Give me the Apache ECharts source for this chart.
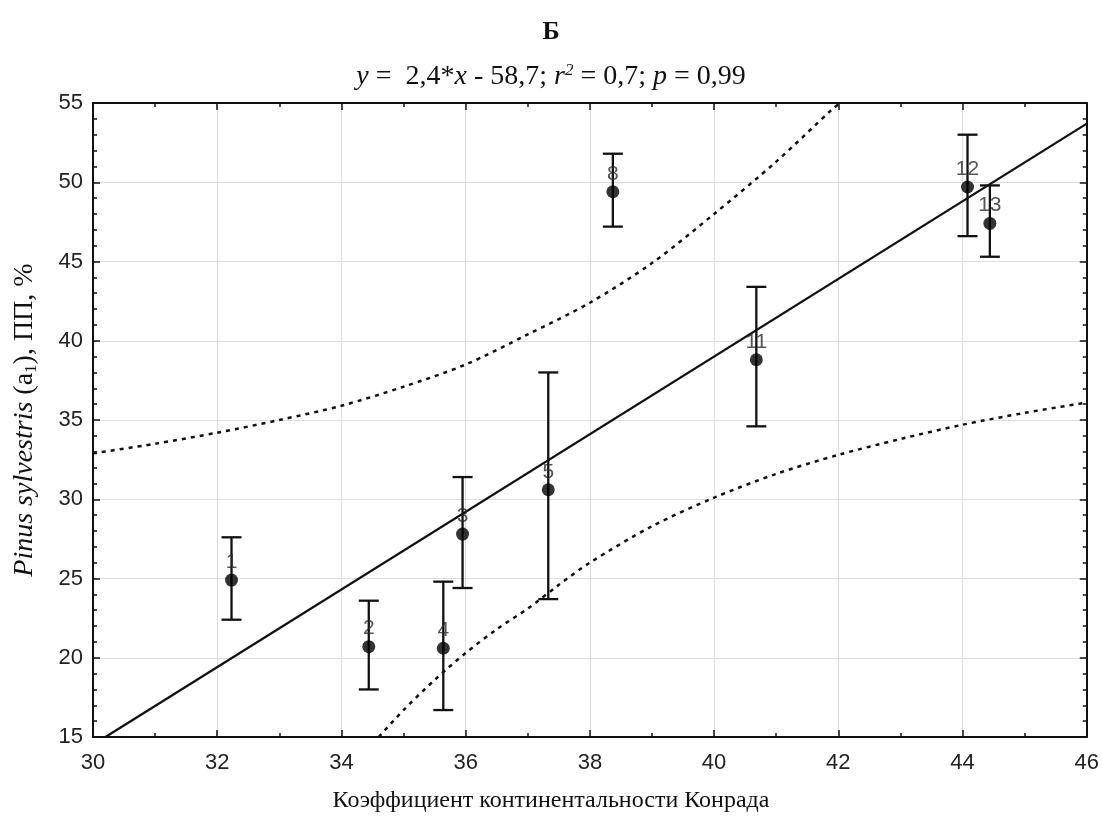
<!DOCTYPE html>
<html>
<head>
<meta charset="utf-8">
<script src="https://cdn.jsdelivr.net/npm/echarts@6/dist/echarts.min.js"></script>
<style>
html,body{margin:0;padding:0;background:#fff;}
#chart{width:1102px;height:819px;}
</style>
</head>
<body>
<div id="chart"></div>
<script>
// ---- data ----
const siteIds   = ['1','2','3','4','5','8','11','12','13'];
const konradK   = [32.23, 34.44, 35.95, 35.64, 37.33, 38.37, 40.68, 44.08, 44.44];
const pineMean  = [24.9, 20.7, 27.8, 20.6, 30.6, 49.4, 38.8, 49.7, 47.4];
const pineLow   = [22.4, 18.0, 24.4, 16.7, 23.7, 47.2, 34.6, 46.6, 45.3];
const pineHigh  = [27.6, 23.6, 31.4, 24.8, 38.0, 51.8, 43.4, 53.0, 49.8];

// regression line (drawn across the plot)
const fitX = [30.2, 46];
const fitY = [15.0, 53.7];

// confidence band (dotted)
const upperX = [30, 31, 32, 33, 34, 35, 36, 37, 38, 39, 40, 41, 41.9, 42.03];
const upperY = [32.9, 33.5, 34.2, 35.0, 35.9, 37.1, 38.5, 40.4, 42.4, 44.9, 48.0, 51.3, 54.6, 55.0];
const lowerX = [34.6, 35.0, 35.5, 36.0, 36.5, 37.0, 37.5, 38.0, 39.0, 40.0, 41.0, 42.0, 43.0, 44.0, 45.0, 46.0];
const lowerY = [15.0, 16.7, 18.6, 20.3, 21.8, 23.1, 24.6, 26.0, 28.3, 30.1, 31.6, 32.8, 33.8, 34.7, 35.45, 36.1];

const xTicks = {min: 30, max: 46, interval: 2};
const yTicks = {min: 15, max: 55, interval: 5};

const titleText = 'Б';
const xName = 'Коэффициент континентальности Конрада';

// ---- build ----
const zip = (a, b) => a.map((v, i) => [v, b[i]]);
const pts = konradK.map((x, i) => ({value: [x, pineMean[i]], name: siteIds[i]}));
const errData = konradK.map((x, i) => [x, pineLow[i], pineHigh[i]]);

const serif = '"Liberation Serif", "Times New Roman", serif';
const sans = '"Liberation Sans", Arial, sans-serif';

const axisCommonX = {
  type: 'value', min: xTicks.min, max: xTicks.max, interval: xTicks.interval,
  axisLine: {show: true, onZero: false, lineStyle: {color: '#111', width: 2}},
  axisTick: {show: true, inside: true, length: 7, lineStyle: {color: '#111', width: 1.5}},
  minorTick: {show: true, splitNumber: 2, length: 4, lineStyle: {color: '#111', width: 1.5}},
};
const axisCommonY = {
  type: 'value', min: yTicks.min, max: yTicks.max, interval: yTicks.interval,
  axisLine: {show: true, onZero: false, lineStyle: {color: '#111', width: 2}},
  axisTick: {show: true, inside: true, length: 7, lineStyle: {color: '#111', width: 1.5}},
  minorTick: {show: true, splitNumber: 5, length: 4, lineStyle: {color: '#111', width: 1.5}},
};

const option = {
  backgroundColor: '#fff',
  animation: false,
  title: [
    {text: titleText, left: 'center', top: 14,
     textStyle: {fontFamily: serif, fontSize: 26, fontWeight: 'bold', color: '#111'}},
    {text: '{i|y} =  2,4*{i|x} - 58,7; {i|r}{sup|2} = 0,7; {i|p} = 0,99', left: 'center', top: 57,
     textStyle: {fontFamily: serif, fontSize: 28, fontWeight: 'normal', color: '#111', lineHeight: 30,
       rich: {
         i: {fontFamily: serif, fontSize: 28, fontStyle: 'italic', color: '#111', lineHeight: 30},
         sup: {fontFamily: serif, fontSize: 17, fontStyle: 'italic', color: '#111', verticalAlign: 'top', lineHeight: 16}
       }}},
    {text: xName, left: 'center', top: 784,
     textStyle: {fontFamily: serif, fontSize: 24, fontWeight: 'normal', color: '#111'}}
  ],
  grid: {left: 93, right: 14, top: 103, bottom: 82, containLabel: false},
  xAxis: [
    Object.assign({}, axisCommonX, {
      position: 'bottom',
      axisLabel: {show: true, margin: 15, fontFamily: sans, fontSize: 22, color: '#222'},
      splitLine: {show: true, lineStyle: {color: '#dedede', width: 1}}
    }),
    Object.assign({}, axisCommonX, {
      position: 'top', axisLabel: {show: false}, splitLine: {show: false}
    })
  ],
  yAxis: [
    Object.assign({}, axisCommonY, {
      position: 'left',
      name: '{i|Pinus sylvestris} (a{sub|1}), ПП, %', nameLocation: 'middle', nameGap: 53, nameRotate: 90,
      nameTextStyle: {fontFamily: serif, fontSize: 28, color: '#111', lineHeight: 30,
        rich: {
          i: {fontFamily: serif, fontSize: 28, fontStyle: 'italic', color: '#111', lineHeight: 30},
          sub: {fontFamily: serif, fontSize: 17, color: '#111', verticalAlign: 'bottom', lineHeight: 16}
        }},
      axisLabel: {show: true, margin: 10, fontFamily: sans, fontSize: 22, color: '#222'},
      splitLine: {show: true, lineStyle: {color: '#dedede', width: 1}}
    }),
    Object.assign({}, axisCommonY, {
      position: 'right', axisLabel: {show: false}, splitLine: {show: false}
    })
  ],
  series: [
    {
      type: 'line', name: 'upper', data: zip(upperX, upperY), showSymbol: false, smooth: 0.3,
      lineStyle: {color: '#111', width: 2.5, type: [4, 5]}, z: 2
    },
    {
      type: 'line', name: 'lower', data: zip(lowerX, lowerY), showSymbol: false, smooth: 0.3,
      lineStyle: {color: '#111', width: 2.5, type: [4, 5]}, z: 2
    },
    {
      type: 'line', name: 'fit', data: zip(fitX, fitY), showSymbol: false,
      lineStyle: {color: '#111', width: 2.3}, z: 3
    },
    {
      type: 'custom', name: 'err', data: errData, z: 4,
      renderItem: function (params, api) {
        const x = api.value(0);
        const lo = api.coord([x, api.value(1)]);
        const hi = api.coord([x, api.value(2)]);
        const hw = 10;
        const st = {stroke: '#111', lineWidth: 2.3};
        return {
          type: 'group',
          children: [
            {type: 'line', shape: {x1: lo[0], y1: lo[1], x2: hi[0], y2: hi[1]}, style: st},
            {type: 'line', shape: {x1: lo[0] - hw, y1: lo[1], x2: lo[0] + hw, y2: lo[1]}, style: st},
            {type: 'line', shape: {x1: hi[0] - hw, y1: hi[1], x2: hi[0] + hw, y2: hi[1]}, style: st}
          ]
        };
      }
    },
    {
      type: 'scatter', name: 'sites', data: pts, symbol: 'circle', symbolSize: 13, z: 5,
      itemStyle: {color: '#000'},
      label: {show: true, position: 'top', distance: 1, formatter: '{b}',
        fontFamily: sans, fontSize: 21, color: '#2a2a2a'}
    }
  ]
};

const chart = echarts.init(document.getElementById('chart'), null, {renderer: 'canvas'});
chart.setOption(option);
</script>
</body>
</html>
